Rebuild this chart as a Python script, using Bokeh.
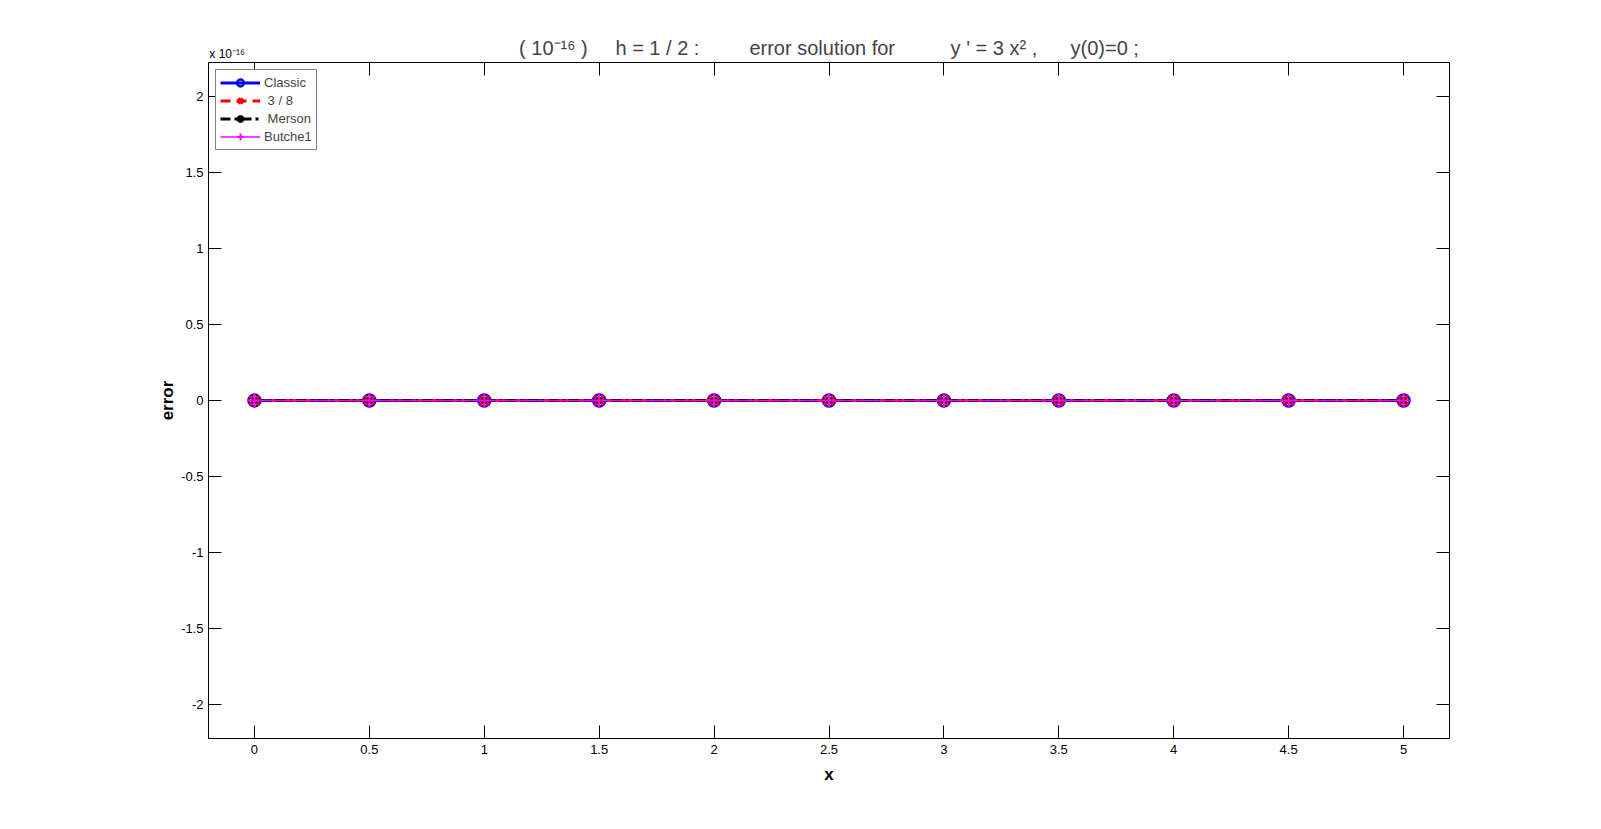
from bokeh.plotting import figure
from bokeh.models import (Range1d, FixedTicker, LinearAxis, Legend, LegendItem,
                          ColumnDataSource)
from bokeh.embed import file_html
from bokeh.resources import INLINE

# ---- data (errors in units of 1e-16) ----
x_vals = [0, 0.5, 1, 1.5, 2, 2.5, 3, 3.5, 4, 4.5, 5]
err_classic = [0, 0, 0, 0, 0, 0, 0, 0, 0, 0, 0]
err_38 = [0, 0, 0, 0, 0, 0, 0, 0, 0, 0, 0]
err_merson = [0, 0, 0, 0, 0, 0, 0, 0, 0, 0, 0]
err_butche1 = [0, 0, 0, 0, 0, 0, 0, 0, 0, 0, 0]
series_names = ["Classic", " 3 / 8", " Merson", "Butche1"]

x_ticks = [0, 0.5, 1, 1.5, 2, 2.5, 3, 3.5, 4, 4.5, 5]
x_tick_labels = ["0", "0.5", "1", "1.5", "2", "2.5", "3", "3.5", "4", "4.5", "5"]
y_ticks = [-2, -1.5, -1, -0.5, 0, 0.5, 1, 1.5, 2]
y_tick_labels = ["-2", "-1.5", "-1", "-0.5", "0", "0.5", "1", "1.5", "2"]

NB = "\u00a0"
title_text = ("( 10\u207b\u00b9\u2076 )" + NB * 5 + "h = 1 / 2 :" + NB * 9 +
              "error solution for" + NB * 10 + "y ' = 3 x\u00b2 ," + NB * 6 + "y(0)=0 ;")
exponent_text = "x 10\u207b\u00b9\u2076"
exponent_anchor = -0.119   # where the exponent note is centred along the top edge

FONT = "Liberation Sans"

p = figure(width=1600, height=828, output_backend="svg", toolbar_location=None,
           x_range=Range1d(-0.2, 5.2), y_range=Range1d(-2.2237, 2.2237),
           min_border_left=208, min_border_right=151, min_border_top=62,
           min_border_bottom=90)

p.title.text = title_text
p.title.text_font = FONT
p.title.text_font_size = "20px"
p.title.text_font_style = "normal"
p.title.align = "center"
p.title.standoff = -30

p.xgrid.visible = False
p.ygrid.visible = False
p.outline_line_color = "black"
p.outline_line_width = 1
p.background_fill_color = "white"
p.border_fill_color = "white"

def style_axis(ax, ticks, overrides, show_labels=True):
    ax.ticker = FixedTicker(ticks=ticks)
    ax.major_label_overrides = overrides
    ax.major_tick_in = 13
    ax.major_tick_out = 0
    ax.minor_tick_in = 0
    ax.minor_tick_out = 0
    ax.axis_line_color = "black"
    ax.major_tick_line_color = "black"
    ax.major_label_text_font = FONT
    ax.major_label_text_font_size = "13px" if show_labels else "0px"
    ax.major_label_text_color = "black"

xo = {t: l for t, l in zip(x_ticks, x_tick_labels)}
yo = {t: l for t, l in zip(y_ticks, y_tick_labels)}

style_axis(p.xaxis[0], x_ticks, xo)
style_axis(p.yaxis[0], y_ticks, yo)
p.xaxis[0].major_label_standoff = 6
p.yaxis[0].major_label_standoff = 5
p.xaxis[0].axis_label = "x"
p.yaxis[0].axis_label = "error"
for ax in (p.xaxis[0], p.yaxis[0]):
    ax.axis_label_text_font = FONT
    ax.axis_label_text_font_size = "17px"
    ax.axis_label_text_font_style = "bold"
    ax.axis_label_text_color = "black"
p.xaxis[0].axis_label_standoff = 8
p.yaxis[0].axis_label_standoff = 1

# top axis: ticks only
top_ax = LinearAxis()
style_axis(top_ax, x_ticks, {t: "" for t in x_ticks}, show_labels=False)
top_ax.major_label_standoff = 0
p.add_layout(top_ax, "above")

# exponent note above the top-left corner
exp_ax = LinearAxis(ticker=FixedTicker(ticks=[exponent_anchor]),
                    major_label_overrides={exponent_anchor: exponent_text})
exp_ax.axis_line_color = None
exp_ax.major_tick_line_color = None
exp_ax.minor_tick_line_color = None
exp_ax.major_tick_in = 0
exp_ax.major_tick_out = 0
exp_ax.major_label_standoff = 2
exp_ax.major_label_text_font = FONT
exp_ax.major_label_text_font_size = "12px"
exp_ax.major_label_text_color = "black"
p.add_layout(exp_ax, "above")

right_ax = LinearAxis()
style_axis(right_ax, y_ticks, {t: "" for t in y_ticks}, show_labels=False)
right_ax.major_label_standoff = 0
p.add_layout(right_ax, "right")

src = ColumnDataSource(dict(x=x_vals, c=err_classic, t=err_38, m=err_merson, b=err_butche1))

l1 = p.line("x", "c", source=src, line_color="#0000ff", line_width=3)
s1 = p.scatter("x", "c", source=src, marker="circle", size=12, fill_color=None,
               line_color="#0000ff", line_width=2.5)
l2 = p.line("x", "t", source=src, line_color="#ff0000", line_width=3, line_dash="10 6")
s2 = p.scatter("x", "t", source=src, marker="x", size=13, line_color="#ff0000", line_width=3.5)
l3 = p.line("x", "m", source=src, line_color="black", line_width=3, line_dash="10 4 3 4")
s3 = p.scatter("x", "m", source=src, marker="circle", size=6, fill_color="black",
               line_color="black")
l4 = p.line("x", "b", source=src, line_color="#ff00ff", line_width=1.5)
s4 = p.scatter("x", "b", source=src, marker="cross", size=15, line_color="#ff00ff",
               line_width=2)

legend = Legend(items=[
    LegendItem(label=series_names[0], renderers=[l1, s1]),
    LegendItem(label=series_names[1], renderers=[l2, s2]),
    LegendItem(label=series_names[2], renderers=[l3, s3]),
    LegendItem(label=series_names[3], renderers=[l4, s4]),
], location="top_left")
legend.margin = 7
legend.padding = 4
legend.spacing = 1
legend.glyph_width = 40
legend.glyph_height = 17
legend.label_height = 17
legend.label_standoff = 4
legend.label_text_font = FONT
legend.label_text_font_size = "13px"
legend.border_line_color = "black"
legend.border_line_width = 1
legend.background_fill_alpha = 1
p.add_layout(legend, "center")

open("out.html", "w").write(file_html(p, INLINE))
